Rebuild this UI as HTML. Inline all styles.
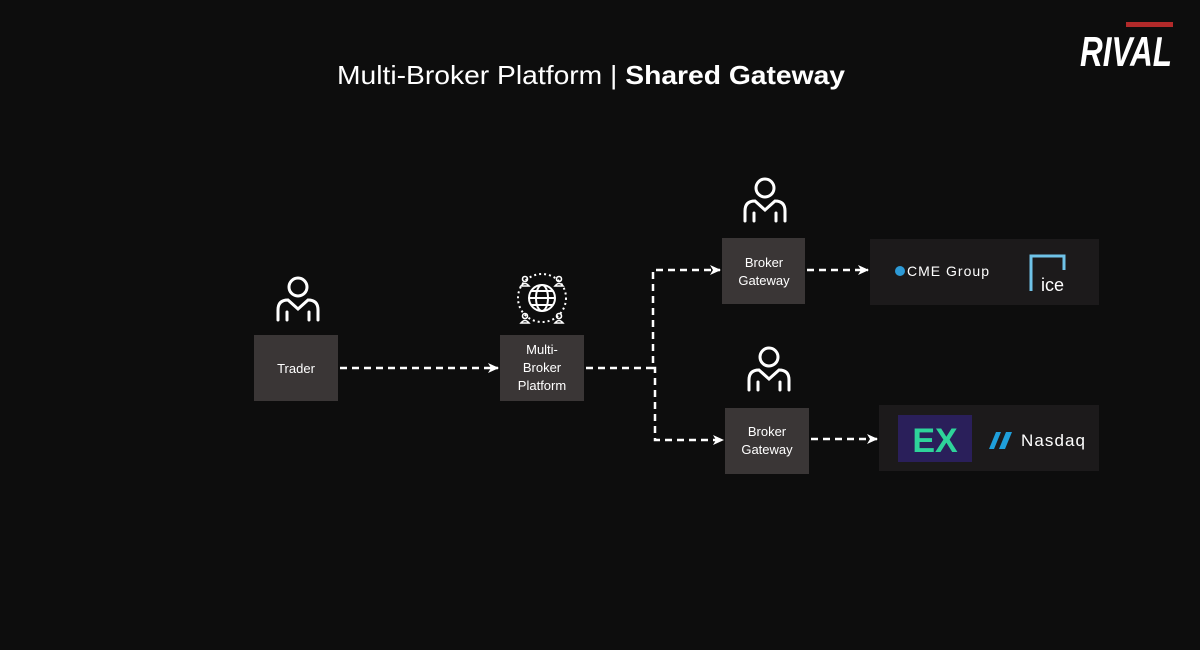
<!DOCTYPE html>
<html><head><meta charset="utf-8"><style>
html,body{margin:0;padding:0;background:#0d0d0d;}
svg{display:block}
text{font-family:"Liberation Sans","DejaVu Sans",sans-serif;}
</style></head><body>
<svg width="1200" height="650" viewBox="0 0 1200 650" xmlns="http://www.w3.org/2000/svg">
<defs>
<marker id="ar" markerWidth="12" markerHeight="12" refX="10" refY="6" orient="auto" markerUnits="userSpaceOnUse">
<path d="M0,1 L11,6 L0,11 L3,6 Z" fill="#fff"/></marker>
<g id="person" fill="none" stroke="#fff" stroke-width="3" stroke-linecap="round">
<circle cx="0" cy="-11" r="9"/>
<path d="M-20,22 V12 Q-20,2 -10,2 L0,11 L10,2 Q20,2 20,12 V22"/>
<path d="M-11,14 V22 M11,14 V22"/>
</g>
</defs>
<rect width="1200" height="650" fill="#0d0d0d"/>
<text x="337" y="84" font-size="26" fill="#fff" textLength="508" lengthAdjust="spacingAndGlyphs">Multi-Broker Platform | <tspan font-weight="bold">Shared Gateway</tspan></text>
<!-- logo -->
<g transform="translate(1080,22)">
<rect x="46" y="0" width="47" height="5" fill="#b22a2a"/>
<text x="0" y="44" font-size="42" font-weight="bold" font-style="italic" fill="#fff" textLength="92" lengthAdjust="spacingAndGlyphs">RIVAL</text>
</g>
<!-- persons -->
<use href="#person" x="298" y="298"/>
<use href="#person" x="765" y="199"/>
<use href="#person" x="769" y="368"/>
<!-- globe icon -->
<g fill="none" stroke="#fff" stroke-width="2">
<circle cx="542" cy="298" r="24" stroke-dasharray="2 3"/>
<circle cx="542" cy="298" r="13"/>
<ellipse cx="542" cy="298" rx="6" ry="13"/>
<line x1="529" y1="298" x2="555" y2="298"/>
<line x1="531" y1="291" x2="553" y2="291"/><line x1="531" y1="305" x2="553" y2="305"/>
<g stroke-width="1.6"><circle cx="525" cy="279" r="2.5"/><path d="M521,286 q4,-5 8,0 z"/>
<circle cx="559" cy="279" r="2.5"/><path d="M555,286 q4,-5 8,0 z"/>
<circle cx="525" cy="316" r="2.5"/><path d="M521,323 q4,-5 8,0 z"/>
<circle cx="559" cy="316" r="2.5"/><path d="M555,323 q4,-5 8,0 z"/></g>
</g>
<!-- boxes -->
<g fill="#3a3636">
<rect x="254" y="335" width="84" height="66"/>
<rect x="500" y="335" width="84" height="66"/>
<rect x="722" y="238" width="83" height="66"/>
<rect x="725" y="408" width="84" height="66"/>
</g>
<g font-size="13" fill="#fff" text-anchor="middle">
<text x="296" y="373">Trader</text>
<text x="542" y="354">Multi-</text><text x="542" y="372">Broker</text><text x="542" y="390">Platform</text>
<text x="764" y="267">Broker</text><text x="764" y="285">Gateway</text>
<text x="767" y="436">Broker</text><text x="767" y="454">Gateway</text>
</g>
<!-- connectors -->
<g stroke="#fff" stroke-width="2.5" fill="none" stroke-dasharray="7 5">
<path d="M340,368 H498" marker-end="url(#ar)"/>
<path d="M586,368 H653 V270 H720" marker-end="url(#ar)"/>
<path d="M653,368 H655 V440 H723" marker-end="url(#ar)"/>
<path d="M807,270 H868" marker-end="url(#ar)"/>
<path d="M811,439 H877" marker-end="url(#ar)"/>
</g>
<!-- exchange panels -->
<rect x="870" y="239" width="229" height="66" fill="#1c1a1b"/>
<rect x="879" y="405" width="220" height="66" fill="#1c1a1b"/>
<circle cx="900" cy="271" r="5" fill="#2d9ad6"/>
<text x="907" y="276" font-size="14" fill="#fff" textLength="82">CME Group</text>
<path d="M1031,291 V256 H1064 V270" fill="none" stroke="#6fc3e8" stroke-width="3"/>
<text x="1041" y="291" font-size="18" fill="#fff">ice</text>
<rect x="898" y="415" width="74" height="47" fill="#2a1f5a"/>
<text x="935" y="452" font-size="34" font-weight="bold" fill="#2ed39a" text-anchor="middle">EX</text>
<path d="M989,449 l7,-17 h5 l-7,17 z M999,449 l7,-17 h6 l-7,17 z" fill="#1f9fdb"/>
<text x="1021" y="446" font-size="17" fill="#fff" textLength="64">Nasdaq</text>
</svg>
</body></html>
